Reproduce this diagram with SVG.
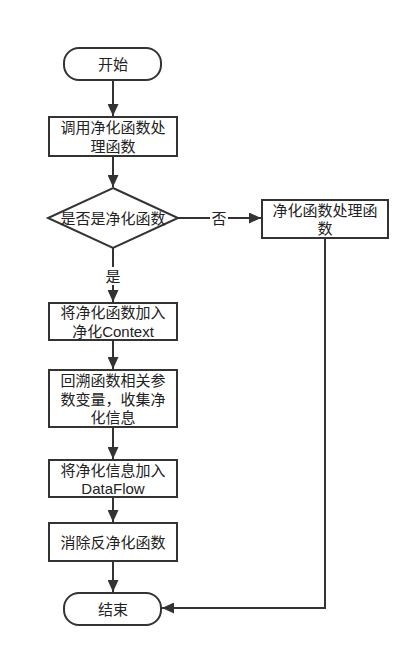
<svg xmlns="http://www.w3.org/2000/svg" width="420" height="658" viewBox="0 0 420 658">
<style>
.s{fill:#fff;stroke:#333;stroke-width:2}
.t{font-family:"Liberation Sans","Noto Sans CJK SC",sans-serif;font-size:15px;fill:#222;text-anchor:middle;dominant-baseline:central}
.c{fill:none;stroke:#333;stroke-width:2}
</style>
<defs>
<marker id="a" markerUnits="userSpaceOnUse" markerWidth="13" markerHeight="11" refX="12" refY="5.5" orient="auto">
<path d="M0,0 L12,5.5 L0,11 z" fill="#333"/>
</marker>
</defs>
<rect width="420" height="658" fill="#fff"/>
<g id="connectors">
<path class="c" d="M113,80 V116" marker-end="url(#a)"/>
<path class="c" d="M113,156 V187" marker-end="url(#a)"/>
<path class="c" d="M178,218 H261" marker-end="url(#a)"/>
<path class="c" d="M113,248 V302" marker-end="url(#a)"/>
<path class="c" d="M113,340 V369" marker-end="url(#a)"/>
<path class="c" d="M113,427 V459" marker-end="url(#a)"/>
<path class="c" d="M113,497 V522" marker-end="url(#a)"/>
<path class="c" d="M113,561 V592" marker-end="url(#a)"/>
<path class="c" d="M325,238 V608 H162" marker-end="url(#a)"/>
<rect x="210" y="209" width="18" height="18" fill="#fff"/>
<text class="t" x="219" y="218">否</text>
<rect x="104" y="267" width="18" height="18" fill="#fff"/>
<text class="t" x="113" y="276">是</text>
</g>
<g id="start">
<rect class="s" x="64" y="48" width="97" height="32" rx="15"/>
<text class="t" x="113" y="64">开始</text>
</g>
<g id="call">
<rect class="s" x="49" y="117" width="128" height="39"/>
<text class="t" x="113" y="127.5">调用净化函数处<tspan x="113" dy="18">理函数</tspan></text>
</g>
<g id="decision">
<path class="s" d="M113,188 L178,218 L113,248 L48,218 z"/>
<text class="t" x="113" y="218">是否是净化函数</text>
</g>
<g id="handle">
<rect class="s" x="262" y="200" width="126" height="38"/>
<text class="t" x="325" y="210">净化函数处理函<tspan x="325" dy="18">数</tspan></text>
</g>
<g id="addcontext">
<rect class="s" x="49" y="303" width="128" height="37"/>
<text class="t" x="113" y="312.5">将净化函数加入<tspan x="113" dy="18">净化Context</tspan></text>
</g>
<g id="trace">
<rect class="s" x="49" y="370" width="128" height="57"/>
<text class="t" x="113" y="380">回溯函数相关参<tspan x="113" dy="18.5">数变量，收集净</tspan><tspan x="113" dy="18.5">化信息</tspan></text>
</g>
<g id="dataflow">
<rect class="s" x="49" y="460" width="128" height="37"/>
<text class="t" x="113" y="470">将净化信息加入<tspan x="113" dy="18">DataFlow</tspan></text>
</g>
<g id="remove">
<rect class="s" x="49" y="523" width="128" height="38"/>
<text class="t" x="113" y="542">消除反净化函数</text>
</g>
<g id="end">
<rect class="s" x="64" y="593" width="97" height="32" rx="15"/>
<text class="t" x="113" y="609">结束</text>
</g>
</svg>
